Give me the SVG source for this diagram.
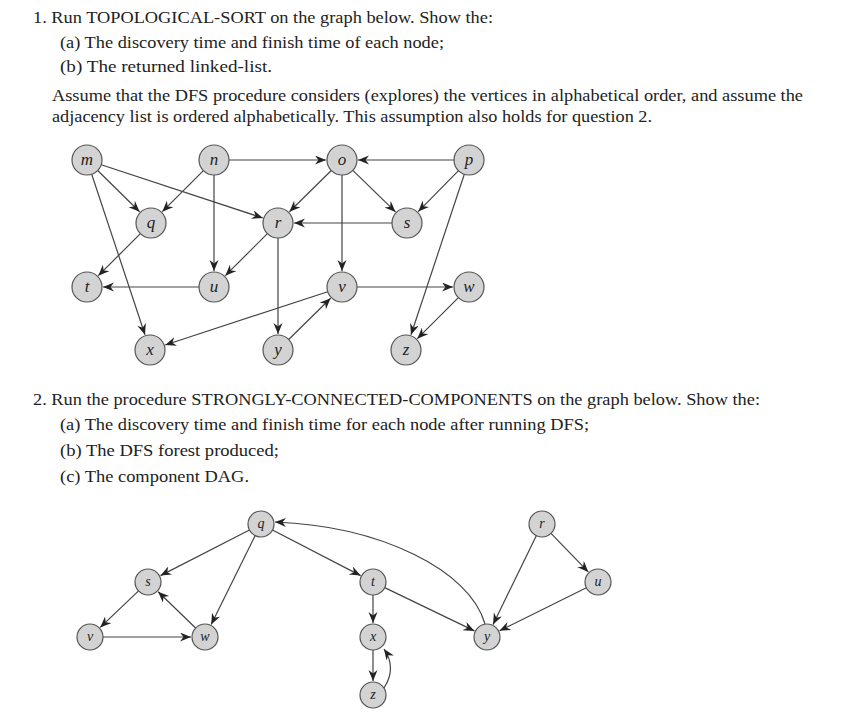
<svg xmlns="http://www.w3.org/2000/svg" width="841" height="721" viewBox="0 0 841 721">
<style>
.t{font-family:"Liberation Serif","Times New Roman",serif;font-size:16px;fill:#222}
.n circle{fill:#d3d3d3;stroke:#555;stroke-width:1.2}
.n text{font-family:"Liberation Serif","Times New Roman",serif;font-style:italic;fill:#222;text-anchor:middle}
.g1 text{font-size:17px}
.g2 text{font-size:14px}
.e line,.e path{stroke:#444;stroke-width:1.2;fill:none;marker-end:url(#a)}
</style>
<defs>
<marker id="a" markerUnits="userSpaceOnUse" markerWidth="12" markerHeight="10" refX="11" refY="4.5" orient="auto">
<path d="M0,0 L11,4.5 L0,9 L3.5,4.5 z" fill="#222"/>
</marker>
</defs>
<rect width="841" height="721" fill="#fff"/>
<text class="t" x="33" y="23" textLength="460" lengthAdjust="spacingAndGlyphs">1. Run TOPOLOGICAL-SORT on the graph below. Show the:</text>
<text class="t" x="60" y="48" textLength="384" lengthAdjust="spacingAndGlyphs">(a) The discovery time and finish time of each node;</text>
<text class="t" x="60" y="72" textLength="212" lengthAdjust="spacingAndGlyphs">(b) The returned linked-list.</text>
<text class="t" x="52" y="101" textLength="751" lengthAdjust="spacingAndGlyphs">Assume that the DFS procedure considers (explores) the vertices in alphabetical order, and assume the</text>
<text class="t" x="52" y="122" textLength="600" lengthAdjust="spacingAndGlyphs">adjacency list is ordered alphabetically. This assumption also holds for question 2.</text>
<text class="t" x="33" y="405" textLength="727" lengthAdjust="spacingAndGlyphs">2. Run the procedure STRONGLY-CONNECTED-COMPONENTS on the graph below. Show the:</text>
<text class="t" x="60" y="430" textLength="529" lengthAdjust="spacingAndGlyphs">(a) The discovery time and finish time for each node after running DFS;</text>
<text class="t" x="60" y="456" textLength="219" lengthAdjust="spacingAndGlyphs">(b) The DFS forest produced;</text>
<text class="t" x="60" y="482" textLength="189" lengthAdjust="spacingAndGlyphs">(c) The component DAG.</text>
<g id="connectors" class="e">
<line x1="97.7" y1="170.5" x2="139.6" y2="211.8"/>
<line x1="101.3" y1="164.7" x2="262.8" y2="218"/>
<line x1="91.7" y1="174.2" x2="145" y2="334.8"/>
<line x1="203.4" y1="170.6" x2="162.3" y2="211.7"/>
<line x1="214" y1="175" x2="214" y2="271"/>
<line x1="229" y1="160" x2="326" y2="160"/>
<line x1="331.3" y1="170.5" x2="289.4" y2="211.8"/>
<line x1="352.8" y1="170.4" x2="395.5" y2="211.9"/>
<line x1="342" y1="175" x2="342" y2="271"/>
<line x1="454" y1="160" x2="358" y2="160"/>
<line x1="458.5" y1="170.7" x2="418.2" y2="211.6"/>
<line x1="464.3" y1="174.2" x2="411" y2="334.8"/>
<line x1="140.4" y1="233.6" x2="98.3" y2="275.7"/>
<line x1="267.4" y1="233.6" x2="225.3" y2="275.7"/>
<line x1="278" y1="238" x2="278" y2="334"/>
<line x1="392" y1="223" x2="294" y2="223"/>
<line x1="199" y1="287" x2="103" y2="287"/>
<line x1="327.7" y1="291.7" x2="165.2" y2="345"/>
<line x1="357" y1="287" x2="453" y2="287"/>
<line x1="458.4" y1="297.6" x2="417.3" y2="338.7"/>
<line x1="288.7" y1="339.5" x2="330.6" y2="298.2"/>
<line x1="249.4" y1="530" x2="160.5" y2="575.6"/>
<line x1="255.2" y1="535.6" x2="211.2" y2="624.5"/>
<line x1="272.5" y1="530" x2="360.6" y2="575.6"/>
<line x1="138.6" y1="590.9" x2="100.2" y2="627.4"/>
<line x1="103" y1="637" x2="191" y2="637"/>
<line x1="195.6" y1="628" x2="158.1" y2="591.7"/>
<line x1="373" y1="595" x2="373" y2="623"/>
<line x1="384.7" y1="587.6" x2="474.4" y2="630.9"/>
<line x1="373" y1="650" x2="373" y2="681"/>
<path d="M384,688 Q397,668 384,649"/>
<path d="M485,624 C470,570 380,526 275,522"/>
<line x1="536.3" y1="535.7" x2="493.1" y2="624.4"/>
<line x1="551" y1="533.4" x2="588.3" y2="571.9"/>
<line x1="586.4" y1="587.8" x2="499.5" y2="630.8"/>
</g>
<g class="n g1">
<g id="m"><circle cx="87" cy="160" r="15"/><text x="87" y="165">m</text></g>
<g id="n"><circle cx="214" cy="160" r="15"/><text x="214" y="165">n</text></g>
<g id="o"><circle cx="342" cy="160" r="15"/><text x="342" y="165">o</text></g>
<g id="p"><circle cx="469" cy="160" r="15"/><text x="469" y="165">p</text></g>
<g id="q"><circle cx="151" cy="223" r="15"/><text x="151" y="228">q</text></g>
<g id="r"><circle cx="278" cy="223" r="15"/><text x="278" y="228">r</text></g>
<g id="s"><circle cx="407" cy="223" r="15"/><text x="407" y="228">s</text></g>
<g id="t"><circle cx="87" cy="287" r="15"/><text x="87" y="292">t</text></g>
<g id="u"><circle cx="214" cy="287" r="15"/><text x="214" y="292">u</text></g>
<g id="v"><circle cx="342" cy="287" r="15"/><text x="342" y="292">v</text></g>
<g id="w"><circle cx="469" cy="287" r="15"/><text x="469" y="292">w</text></g>
<g id="x"><circle cx="150" cy="350" r="15"/><text x="150" y="355">x</text></g>
<g id="y"><circle cx="278" cy="350" r="15"/><text x="278" y="355">y</text></g>
<g id="z"><circle cx="406" cy="350" r="15"/><text x="406" y="355">z</text></g>
</g>
<g class="n g2">
<g id="q2"><circle cx="261" cy="524" r="13"/><text x="261" y="528">q</text></g>
<g id="s2"><circle cx="148" cy="582" r="13"/><text x="148" y="586">s</text></g>
<g id="v2"><circle cx="90" cy="637" r="13"/><text x="90" y="641">v</text></g>
<g id="w2"><circle cx="205" cy="637" r="13"/><text x="205" y="641">w</text></g>
<g id="t2"><circle cx="373" cy="582" r="13"/><text x="373" y="586">t</text></g>
<g id="x2"><circle cx="373" cy="637" r="13"/><text x="373" y="641">x</text></g>
<g id="z2"><circle cx="373" cy="695" r="13"/><text x="373" y="699">z</text></g>
<g id="y2"><circle cx="487" cy="637" r="13"/><text x="487" y="641">y</text></g>
<g id="r2"><circle cx="542" cy="524" r="13"/><text x="542" y="528">r</text></g>
<g id="u2"><circle cx="598" cy="582" r="13"/><text x="598" y="586">u</text></g>
</g>
</svg>
